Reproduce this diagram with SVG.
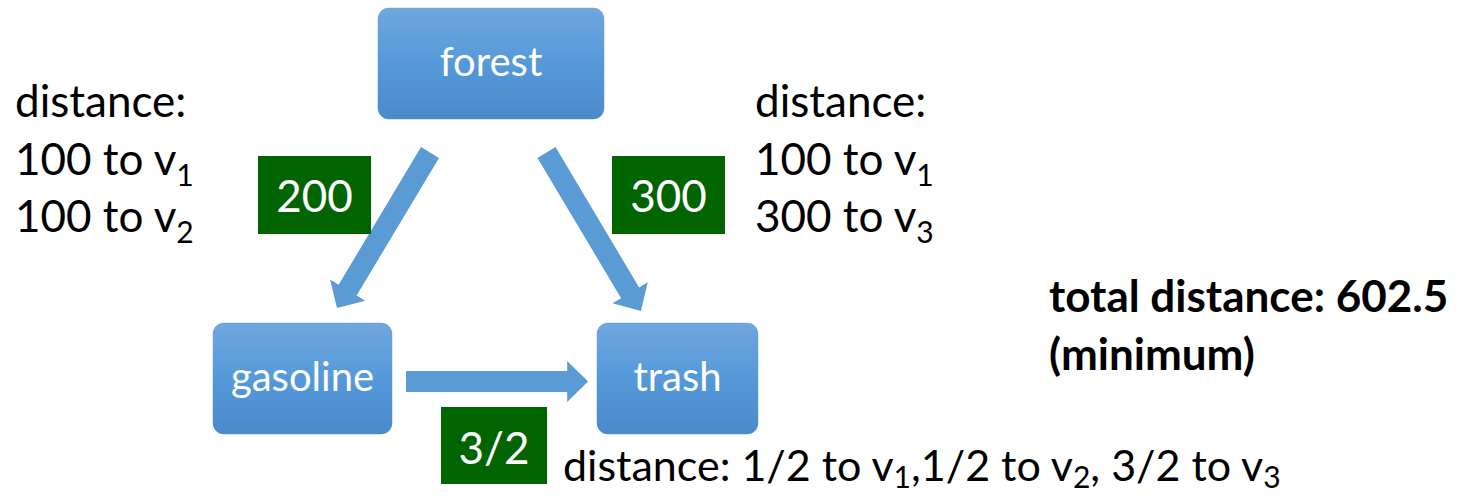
<svg xmlns="http://www.w3.org/2000/svg" xmlns:xlink="http://www.w3.org/1999/xlink" width="1458" height="496" viewBox="0 0 1458 496">
  <style>
    .node rect { fill: url(#nodeFill); stroke: #ffffff; stroke-width: 1.5; }
    .node text { font-family: Lato, "Open Sans", sans-serif; font-size: 40px; fill: #ffffff; text-anchor: middle; }
    .weight rect { fill: #006400; }
    .weight text { font-family: Lato, "Open Sans", sans-serif; font-size: 44px; fill: #ffffff; text-anchor: middle; }
    .arrow { fill: #5b9bd5; }
    .note { font-family: Lato, "Open Sans", sans-serif; font-size: 44px; fill: #000000; }
    .bold { font-weight: bold; }
    .sub { font-size: 30px; }
  </style>
  <defs>
    <linearGradient id="nodeFill" x1="0" y1="0" x2="0" y2="1">
      <stop offset="0" stop-color="#70a7dd"/>
      <stop offset="0.5" stop-color="#5599da"/>
      <stop offset="1" stop-color="#4a8acb"/>
    </linearGradient>
    <!-- block arrow pointing along +x, tail at origin, tip at x=183 -->
    <path id="blockArrow" class="arrow" d="M0,-10.5 H162 V-20.5 L183,0 L162,20.5 V10.5 H0 Z"/>
  </defs>

  <!-- connectors -->
  <g id="connectors">
    <use xlink:href="#blockArrow" href="#blockArrow" transform="translate(430,152.5) rotate(120.9) scale(0.99,1)"/>
    <use xlink:href="#blockArrow" href="#blockArrow" transform="translate(546.5,152.5) rotate(59.2) scale(1.008,1)"/>
    <use xlink:href="#blockArrow" href="#blockArrow" transform="translate(406,381.5) scale(0.995,1)"/>
  </g>

  <!-- nodes -->
  <g id="forest" class="node">
    <rect x="377" y="7" width="228" height="113" rx="12"/>
    <text x="491" y="76">forest</text>
  </g>
  <g id="gasoline" class="node">
    <rect x="212" y="322" width="181" height="113" rx="12"/>
    <text x="302.5" y="391">gasoline</text>
  </g>
  <g id="trash" class="node">
    <rect x="596" y="322" width="163" height="113" rx="12"/>
    <text x="677.5" y="391">trash</text>
  </g>

  <!-- edge weights -->
  <g id="weight-forest-gasoline" class="weight">
    <rect x="258" y="156" width="113" height="78"/>
    <text x="314.5" y="212">200</text>
  </g>
  <g id="weight-forest-trash" class="weight">
    <rect x="612" y="156" width="113" height="78"/>
    <text x="668.5" y="212">300</text>
  </g>
  <g id="weight-gasoline-trash" class="weight">
    <rect x="441" y="407" width="106" height="77"/>
    <text x="494" y="464">3/2</text>
  </g>

  <!-- distance annotations -->
  <g id="note-gasoline">
    <text class="note" x="15" y="117">distance:</text>
    <text class="note" x="15" y="175">100 to v<tspan class="sub" dy="11">1</tspan></text>
    <text class="note" x="15" y="232">100 to v<tspan class="sub" dy="11">2</tspan></text>
  </g>
  <g id="note-trash">
    <text class="note" x="755" y="117">distance:</text>
    <text class="note" x="755" y="175">100 to v<tspan class="sub" dy="11">1</tspan></text>
    <text class="note" x="755" y="232">300 to v<tspan class="sub" dy="11">3</tspan></text>
  </g>
  <g id="note-bottom">
    <text class="note" x="563" y="481" style="font-size:43px">distance: 1/2 to v<tspan class="sub" dy="7">1</tspan><tspan dy="-7">,1/2 to v</tspan><tspan class="sub" dy="7">2</tspan><tspan dy="-7">, 3/2 to v</tspan><tspan class="sub" dy="7">3</tspan></text>
  </g>
  <g id="note-total">
    <text class="note bold" x="1049" y="312">total distance: 602.5</text>
    <text class="note bold" x="1049" y="370">(minimum)</text>
  </g>
</svg>
